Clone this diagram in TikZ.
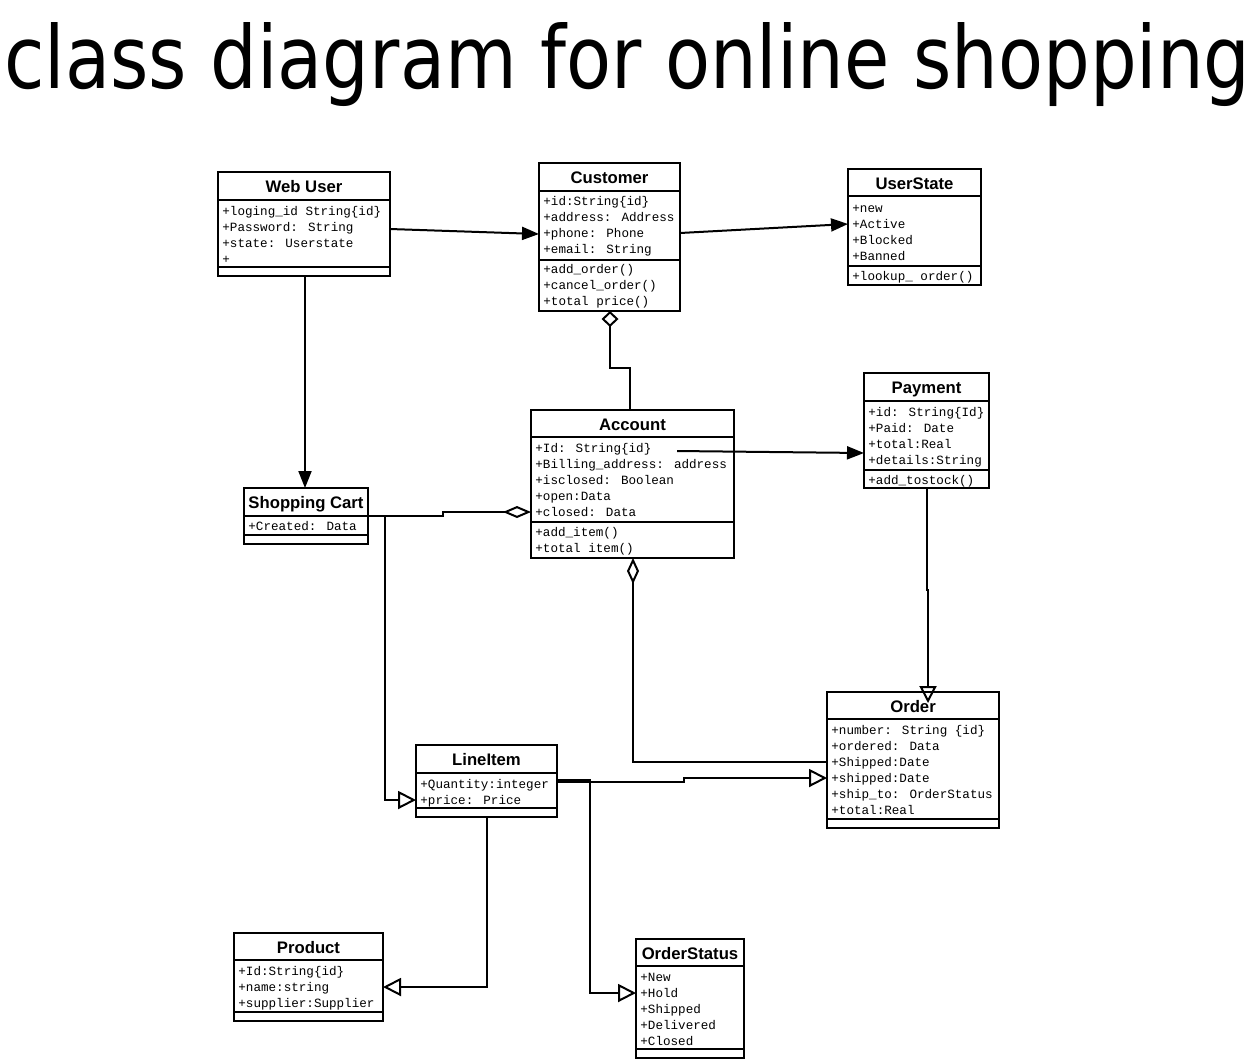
\documentclass[tikz,border=0pt]{standalone}
\usepackage{graphicx}
\usepackage{fontspec}
\setmainfont{Liberation Sans}
\newfontfamily\titlefont{DejaVu Sans}
\newfontfamily\umlmono{Liberation Mono}
\usetikzlibrary{arrows.meta,fit}
\tikzset{
  cls/.style={draw, line width=1pt, fill=white, inner sep=0pt, outer sep=0pt},
  sepline/.style={line width=1pt},
  ctitle/.style={font=\bfseries\fontsize{8.35}{10}\selectfont, inner sep=0pt, anchor=base},
  attr/.style={font=\umlmono\fontsize{6.3}{8}\selectfont, inner sep=0pt, anchor=base west},
  conn/.style={line width=1pt},
  filled/.style={conn, -{Triangle[length=8.5pt,width=6.5pt]}},
  hollow/.style={conn, -{Triangle[open,length=9pt,width=9pt]}},
  hollowdown/.style={conn, -{Triangle[open,length=8.5pt,width=8.5pt]}},
  diamsq/.style={conn, {Diamond[open,length=8pt,width=8.5pt]}-},
  diamlong/.style={conn, {Diamond[open,length=13pt,width=6pt]}-},
  diamleft/.style={conn, -{Diamond[open,length=14pt,width=6pt]}},
}
\newcommand\umlbox[7]{%
  \node[cls, fit={(#2,#3) (#4,#5)}] (#1) {};
  \draw[sepline] (#1.west |- 0,#6) -- (#1.east |- 0,#6);
  \draw[sepline] (#1.west |- 0,#7) -- (#1.east |- 0,#7);
}
\begin{document}
\begin{tikzpicture}[x=0.5pt,y=-0.5pt]
\useasboundingbox (0,0) rectangle (1257,1061);
\fill[white] (0,0) rectangle (1257,1061);

% title
\node[anchor=base west, inner sep=0pt] (title) at (4,88)
  {\resizebox{623pt}{33pt}{\titlefont class diagram for online shopping}};

% ---------- Web User
\umlbox{webuser}{218}{172}{390}{276}{200}{267}
\node[ctitle] (webuserT) at (304,192) {Web User};
\node[attr] (wu1) at (222,215) {+loging\_id String\{id\}};
\node[attr] (wu2) at (222,231) {+Password: String};
\node[attr] (wu3) at (222,247) {+state: Userstate};
\node[attr] (wu4) at (222,263) {+};

% ---------- Customer
\umlbox{customer}{539}{163}{680}{311}{191}{260}
\node[ctitle] (customerT) at (609.5,183) {Customer};
\node[attr] (cu1) at (543,205) {+id:String\{id\}};
\node[attr] (cu2) at (543,221) {+address: Address};
\node[attr] (cu3) at (543,237) {+phone: Phone};
\node[attr] (cu4) at (543,253) {+email: String};
\node[attr] (cu5) at (543,273) {+add\_order()};
\node[attr] (cu6) at (543,289) {+cancel\_order()};
\node[attr] (cu7) at (543,305) {+total price()};

% ---------- UserState
\umlbox{userstate}{848}{169}{981}{285}{196}{266}
\node[ctitle] (userstateT) at (914.5,189) {UserState};
\node[attr] (us1) at (852,212) {+new};
\node[attr] (us2) at (852,228) {+Active};
\node[attr] (us3) at (852,244) {+Blocked};
\node[attr] (us4) at (852,260) {+Banned};
\node[attr] (us5) at (852,280) {+lookup\_ order()};

% ---------- Account
\umlbox{account}{531}{410}{734}{558}{437}{522}
\node[ctitle] (accountT) at (632.5,430) {Account};
\node[attr] (ac1) at (535,452) {+Id: String\{id\}};
\node[attr] (ac2) at (535,468) {+Billing\_address: address};
\node[attr] (ac3) at (535,484) {+isclosed: Boolean};
\node[attr] (ac4) at (535,500) {+open:Data};
\node[attr] (ac5) at (535,516) {+closed: Data};
\node[attr] (ac6) at (535,536) {+add\_item()};
\node[attr] (ac7) at (535,552) {+total item()};

% ---------- Shopping Cart
\umlbox{cart}{244}{488}{368}{544}{516}{535}
\node[ctitle] (cartT) at (306,508) {Shopping Cart};
\node[attr] (sc1) at (248,530) {+Created: Data};

% ---------- Payment
\umlbox{payment}{864}{373}{989}{488}{401}{470}
\node[ctitle] (paymentT) at (926.5,393) {Payment};
\node[attr] (pa1) at (868,416) {+id: String\{Id\}};
\node[attr] (pa2) at (868,432) {+Paid: Date};
\node[attr] (pa3) at (868,448) {+total:Real};
\node[attr] (pa4) at (868,464) {+details:String};
\node[attr] (pa5) at (868,484) {+add\_tostock()};

% ---------- Order
\umlbox{order}{827}{692}{999}{828}{719}{819}
\node[ctitle] (orderT) at (913,712) {Order};
\node[attr] (or1) at (831,734) {+number: String \{id\}};
\node[attr] (or2) at (831,750) {+ordered: Data};
\node[attr] (or3) at (831,766) {+Shipped:Date};
\node[attr] (or4) at (831,782) {+shipped:Date};
\node[attr] (or5) at (831,798) {+ship\_to: OrderStatus};
\node[attr] (or6) at (831,814) {+total:Real};

% ---------- LineItem
\umlbox{lineitem}{416}{745}{557}{817}{773}{808}
\node[ctitle] (lineitemT) at (486.5,765) {LineItem};
\node[attr] (li1) at (420,788) {+Quantity:integer};
\node[attr] (li2) at (420,804) {+price: Price};

% ---------- Product
\umlbox{product}{234}{933}{383}{1021}{960}{1012}
\node[ctitle] (productT) at (308.5,953) {Product};
\node[attr] (pr1) at (238,975) {+Id:String\{id\}};
\node[attr] (pr2) at (238,991) {+name:string};
\node[attr] (pr3) at (238,1007) {+supplier:Supplier};

% ---------- OrderStatus
\umlbox{orderstatus}{636}{939}{744}{1058}{966}{1049}
\node[ctitle] (orderstatusT) at (690,959) {OrderStatus};
\node[attr] (os1) at (640,981) {+New};
\node[attr] (os2) at (640,997) {+Hold};
\node[attr] (os3) at (640,1013) {+Shipped};
\node[attr] (os4) at (640,1029) {+Delivered};
\node[attr] (os5) at (640,1045) {+Closed};

% ---------- connectors
\coordinate (cartjoin) at (385,516);
\coordinate (accpay) at (677,451);
\coordinate (ordtip) at (928,703);

\draw[filled] (webuser.east |- 0,229) -- (customer.west |- 0,234);
\draw[filled] (customer.east |- 0,233) -- (userstate.west |- 0,224);
\draw[filled] (webuser.south -| 305,0) -- (cart.north -| 305,0);
\draw[diamsq] (customer.south -| 610,0) -- (610,368) -- (630,368) -- (account.north -| 630,0);
\draw[diamleft] (cart.east |- 0,516) -- (443,516) -- (443,512) -- (account.west |- 0,512);
\draw[hollow] (cartjoin) -- (385,800) -- (lineitem.west |- 0,800);
\draw[filled] (accpay) -- (payment.west |- 0,453);
\draw[hollowdown] (payment.south -| 927,0) -- (927,590) -- (928,590) -- (ordtip);
\draw[diamlong] (account.south -| 633,0) -- (633,762) -- (order.west |- 0,762);
\draw[hollow] (lineitem.east |- 0,782) -- (684,782) -- (684,778) -- (order.west |- 0,778);
\draw[hollow] (lineitem.east |- 0,780) -- (590,780) -- (590,993) -- (orderstatus.west |- 0,993);
\draw[hollow] (lineitem.south -| 487,0) -- (487,987) -- (product.east |- 0,987);
\end{tikzpicture}
\end{document}
